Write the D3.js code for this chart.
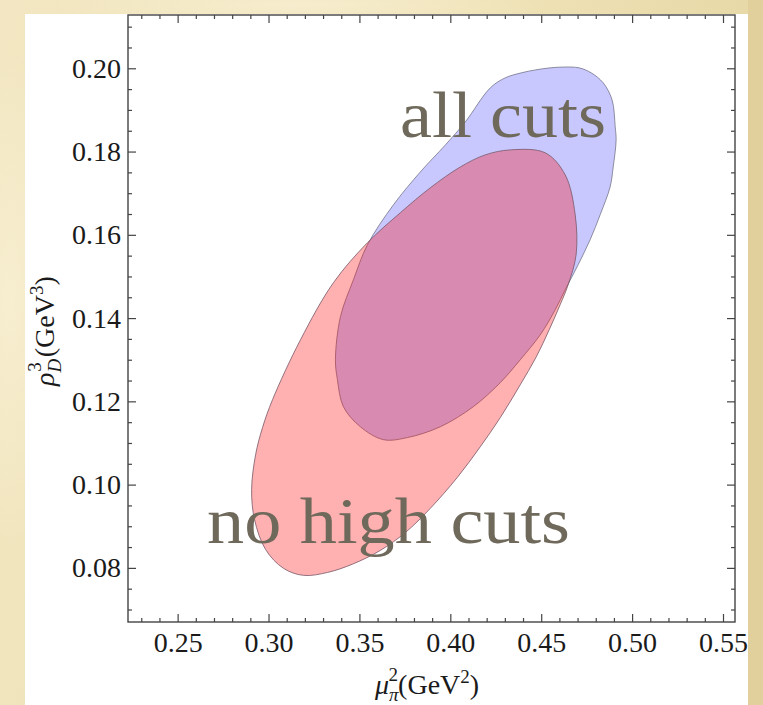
<!DOCTYPE html>
<html>
<head>
<meta charset="utf-8">
<script src="https://cdn.jsdelivr.net/npm/d3@7"></script>
<style>
  html, body { margin: 0; padding: 0; }
  body { width: 763px; height: 705px; overflow: hidden; }
  svg text { font-family: "Liberation Serif", "DejaVu Serif", serif; }
</style>
</head>
<body>
<div id="chart"></div>
<script>
// contour of the "all cuts" region (mu_pi^2, rho_D^3)
var allCutsX = [0.4626, 0.4709, 0.4775, 0.4841, 0.4890, 0.4907, 0.4912, 0.4896, 0.4879, 0.4824,
                0.4769, 0.4703, 0.4632, 0.4577, 0.4495, 0.4385, 0.4275, 0.4126, 0.3945, 0.3764,
                0.3632, 0.3505, 0.3412, 0.3379, 0.3368, 0.3396, 0.3467, 0.3544, 0.3687, 0.3835,
                0.3973, 0.4082, 0.4220, 0.4302, 0.4390, 0.4467, 0.4549];
var allCutsY = [0.2003, 0.2001, 0.1989, 0.1965, 0.1924, 0.1859, 0.1828, 0.1763, 0.1715, 0.1648,
                0.1588, 0.1528, 0.1468, 0.1420, 0.1360, 0.1300, 0.1245, 0.1187, 0.1139, 0.1113,
                0.1108, 0.1139, 0.1187, 0.1252, 0.1300, 0.1404, 0.1492, 0.1576, 0.1672, 0.1751,
                0.1816, 0.1871, 0.1953, 0.1977, 0.1989, 0.1996, 0.2001];

// contour of the "no high cuts" region
var noHighX = [0.4330, 0.4522, 0.4632, 0.4687, 0.4692, 0.4648, 0.4604, 0.4544, 0.4473, 0.4385,
               0.4275, 0.4165, 0.4038, 0.3890, 0.3753, 0.3615, 0.3462, 0.3324, 0.3192, 0.3082,
               0.2984, 0.2923, 0.2907, 0.2929, 0.2967, 0.3022, 0.3176, 0.3357, 0.3544, 0.3725,
               0.3890, 0.4055, 0.4192];
var noHighY = [0.1804, 0.1797, 0.1744, 0.1648, 0.1552, 0.1480, 0.1432, 0.1372, 0.1307, 0.1240,
               0.1161, 0.1091, 0.1017, 0.0943, 0.0885, 0.0842, 0.0809, 0.0789, 0.0782, 0.0799,
               0.0844, 0.0916, 0.0988, 0.1072, 0.1137, 0.1204, 0.1348, 0.1485, 0.1581, 0.1653,
               0.1713, 0.1763, 0.1792];

var xTicks = [0.25, 0.30, 0.35, 0.40, 0.45, 0.50, 0.55];
var yTicks = [0.08, 0.10, 0.12, 0.14, 0.16, 0.18, 0.20];
var xDomain = [0.2227, 0.5566];
var yDomain = [0.0670, 0.2128];

var width = 763, height = 705;
var frame = { left: 128, right: 735, top: 15, bottom: 622 };

var svg = d3.select('#chart').append('svg')
    .attr('width', width)
    .attr('height', height);

// parchment background
var defs = svg.append('defs');
var bg = defs.append('linearGradient').attr('id', 'parch')
    .attr('x1', 0).attr('y1', 0).attr('x2', 1).attr('y2', 0.3);
bg.append('stop').attr('offset', '0%').attr('stop-color', '#f2e7c2');
bg.append('stop').attr('offset', '60%').attr('stop-color', '#efe2b6');
bg.append('stop').attr('offset', '100%').attr('stop-color', '#e6d6a4');
var blob = defs.append('radialGradient').attr('id', 'blob');
blob.append('stop').attr('offset', '0%').attr('stop-color', '#fbf4dc').attr('stop-opacity', 0.6);
blob.append('stop').attr('offset', '100%').attr('stop-color', '#fbf4dc').attr('stop-opacity', 0);

svg.append('rect').attr('width', width).attr('height', height).attr('fill', 'url(#parch)');
svg.append('ellipse').attr('cx', 10).attr('cy', 300).attr('rx', 60).attr('ry', 250).attr('fill', 'url(#blob)');
svg.append('ellipse').attr('cx', 300).attr('cy', 5).attr('rx', 250).attr('ry', 20).attr('fill', 'url(#blob)');
svg.append('rect').attr('x', 748).attr('y', 0).attr('width', 15).attr('height', height)
    .attr('fill', '#e2d09c');

// white panel
svg.append('rect')
    .attr('x', 25).attr('y', 14)
    .attr('width', 748 - 25).attr('height', height - 14)
    .attr('fill', '#ffffff');

var x = d3.scaleLinear().domain(xDomain).range([frame.left, frame.right]);
var y = d3.scaleLinear().domain(yDomain).range([frame.bottom, frame.top]);

defs.append('clipPath').attr('id', 'plotclip')
    .append('rect')
    .attr('x', frame.left).attr('y', frame.top)
    .attr('width', frame.right - frame.left).attr('height', frame.bottom - frame.top);

var plot = svg.append('g').attr('clip-path', 'url(#plotclip)');

var contour = d3.line()
    .x(function (d) { return x(d[0]); })
    .y(function (d) { return y(d[1]); })
    .curve(d3.curveCatmullRomClosed.alpha(0.5));

var allCuts = d3.zip(allCutsX, allCutsY);
var noHigh = d3.zip(noHighX, noHighY);

plot.append('path')
    .datum(allCuts)
    .attr('d', contour)
    .attr('fill', '#c8c8ff')
    .attr('stroke', '#75758a')
    .attr('stroke-opacity', 0.8)
    .attr('stroke-width', 1);

plot.append('path')
    .datum(noHigh)
    .attr('d', contour)
    .attr('fill', '#ff0000')
    .attr('fill-opacity', 0.31)
    .attr('stroke', '#785868')
    .attr('stroke-opacity', 0.8)
    .attr('stroke-width', 1);

// region labels
plot.append('text')
    .attr('x', 400).attr('y', 137)
    .attr('textLength', 206).attr('lengthAdjust', 'spacingAndGlyphs')
    .style('font-size', '66px')
    .attr('fill', '#6e695a')
    .text('all cuts');

plot.append('text')
    .attr('x', 207).attr('y', 543)
    .attr('textLength', 363).attr('lengthAdjust', 'spacingAndGlyphs')
    .style('font-size', '66px')
    .attr('fill', '#6e695a')
    .text('no high cuts');

// frame and ticks (inward, on all sides)
var xMinor = d3.range(0.23, 0.5566, 0.01).filter(function (v) {
    return Math.abs(Math.round(v * 20) - v * 20) > 1e-6;
});
var yMinor = d3.range(0.07, 0.2128, 0.005).filter(function (v) {
    return Math.abs(Math.round(v * 50) - v * 50) > 1e-6;
});

function styleAxis(g) {
    g.select('.domain').remove();
    g.selectAll('line').attr('stroke', '#444').attr('stroke-width', 1.2);
    g.selectAll('text')
        .style('font-size', '28px')
        .attr('fill', '#1a1a1a');
}

svg.append('g').attr('transform', 'translate(0,' + frame.bottom + ')')
    .call(d3.axisBottom(x).tickValues(xTicks).tickSize(-8).tickPadding(12).tickFormat(d3.format('.2f')))
    .call(styleAxis)
    .call(function (g) { g.selectAll('text').attr('dy', '0.66em'); });
svg.append('g').attr('transform', 'translate(0,' + frame.bottom + ')')
    .call(d3.axisBottom(x).tickValues(xMinor).tickSize(-4).tickFormat(''))
    .call(styleAxis);
svg.append('g').attr('transform', 'translate(0,' + frame.top + ')')
    .call(d3.axisTop(x).tickValues(xTicks).tickSize(-8).tickFormat(''))
    .call(styleAxis);
svg.append('g').attr('transform', 'translate(0,' + frame.top + ')')
    .call(d3.axisTop(x).tickValues(xMinor).tickSize(-4).tickFormat(''))
    .call(styleAxis);

svg.append('g').attr('transform', 'translate(' + frame.left + ',0)')
    .call(d3.axisLeft(y).tickValues(yTicks).tickSize(-8).tickPadding(7).tickFormat(d3.format('.2f')))
    .call(styleAxis);
svg.append('g').attr('transform', 'translate(' + frame.left + ',0)')
    .call(d3.axisLeft(y).tickValues(yMinor).tickSize(-4).tickFormat(''))
    .call(styleAxis);
svg.append('g').attr('transform', 'translate(' + frame.right + ',0)')
    .call(d3.axisRight(y).tickValues(yTicks).tickSize(-8).tickFormat(''))
    .call(styleAxis);
svg.append('g').attr('transform', 'translate(' + frame.right + ',0)')
    .call(d3.axisRight(y).tickValues(yMinor).tickSize(-4).tickFormat(''))
    .call(styleAxis);

svg.append('rect')
    .attr('x', frame.left).attr('y', frame.top)
    .attr('width', frame.right - frame.left).attr('height', frame.bottom - frame.top)
    .attr('fill', 'none')
    .attr('stroke', '#444')
    .attr('stroke-width', 1.4);

// axis titles
var xl = svg.append('text')
    .attr('x', 375).attr('y', 694)
    .style('font-size', '28px')
    .attr('fill', '#1a1a1a');
xl.append('tspan').style('font-style', 'italic').text('\u03BC');
xl.append('tspan').style('font-style', 'italic').style('font-size', '19px').attr('dy', 7).text('\u03C0');
xl.append('tspan').style('font-size', '19px').attr('dx', -10).attr('dy', -20).text('2');
xl.append('tspan').attr('dy', 13).text('(GeV');
xl.append('tspan').style('font-size', '19px').attr('dy', -11).text('2');
xl.append('tspan').attr('dy', 11).text(')');

var yl = svg.append('text')
    .attr('transform', 'translate(54,386) rotate(-90)')
    .style('font-size', '28px')
    .attr('fill', '#1a1a1a');
yl.append('tspan').style('font-style', 'italic').text('\u03C1');
yl.append('tspan').style('font-style', 'italic').style('font-size', '19px').attr('dy', 7).text('D');
yl.append('tspan').style('font-size', '19px').attr('dx', -13).attr('dy', -20).text('3');
yl.append('tspan').attr('dx', 5).attr('dy', 13).text('(GeV');
yl.append('tspan').style('font-size', '19px').attr('dy', -11).text('3');
yl.append('tspan').attr('dy', 11).text(')');
</script>
</body>
</html>
